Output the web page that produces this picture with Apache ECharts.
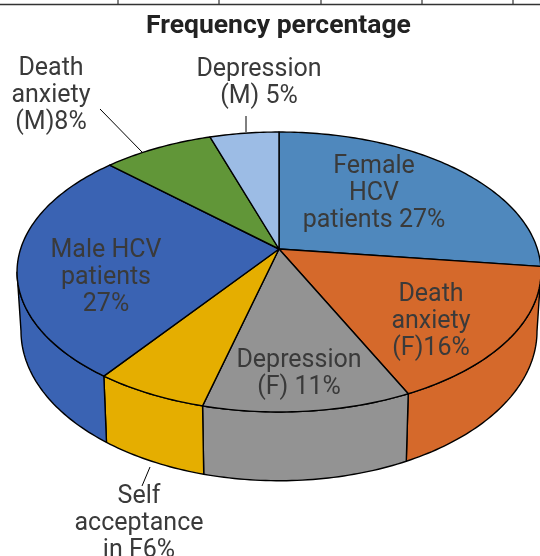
<!DOCTYPE html>
<html>
<head>
<meta charset="utf-8">
<title>Frequency percentage</title>
<script src="https://cdn.jsdelivr.net/npm/echarts@6/dist/echarts.min.js"></script>
<style>
  html, body { margin: 0; padding: 0; background: #fff; }
  #chart { width: 540px; height: 556px; overflow: hidden; }
</style>
</head>
<body>
<div id="chart"></div>
<script>
const categories = [
  'Female\nHCV\npatients 27%',
  'Death\nanxiety\n(F)16%',
  'Depression\n(F) 11%',
  'Self\nacceptance\nin F6%',
  'Male HCV\npatients\n27%',
  'Death\nanxiety\n(M)8%',
  'Depression\n(M) 5%'
];
const values = [27, 16, 11, 6, 27, 8, 5];
const colors = ['#4f88bd', '#d5692b', '#939393', '#e5ae00', '#3a63b3', '#619638', '#9cbce5'];

// label centres and leader lines, in pixels
const labelPos = [[374, 194], [431, 322], [299, 374], [139, 524], [106, 278], [51, 96], [259, 83]];
const leaders = [
  [100, 109, 142, 152],
  [246, 116, 246, 132],
  [150, 467, 142, 486]
];
const tableTicks = [118, 219, 321, 422, 513];

// the disc is a circle seen in perspective, these come from the rim in the picture
const topDisc = { cx: 279, cy: 249, a: 258.4, b: 136.2, p: 0.1643 };
const baseDisc = { cx: 279, cy: 306.4, a: 254.5, b: 145.7, p: 0.1643 };
const wallFrom = 99.5;
const wallTo = 260.5;

const total = values.reduce((s, v) => s + v, 0);
const starts = [];
values.reduce((s, v, i) => { starts[i] = s; return s + v; }, 0);

function sliceAngles(i) {
  return [starts[i] / total * 360, (starts[i] + values[i]) / total * 360];
}

function rimPoint(disc, deg) {
  const t = deg * Math.PI / 180;
  const u = Math.sin(t);
  const v = -Math.cos(t);
  const d = 1 - disc.p * v;
  return [disc.cx + disc.a * u / d, disc.cy + disc.b * v / d];
}

function arc(disc, from, to) {
  const pts = [];
  const n = Math.max(2, Math.ceil(Math.abs(to - from)));
  for (let i = 0; i <= n; i++) {
    pts.push(rimPoint(disc, from + (to - from) * i / n));
  }
  return pts;
}

function renderWall(params) {
  const i = params.dataIndex;
  const [s, e] = sliceAngles(i);
  const from = Math.max(s, wallFrom);
  const to = Math.min(e, wallTo);
  if (to <= from) return null;
  return {
    type: 'polygon',
    shape: { points: arc(topDisc, from, to).concat(arc(baseDisc, to, from)) },
    style: { fill: colors[i], stroke: '#000', lineWidth: 1.4, lineJoin: 'round' }
  };
}

function renderTop(params) {
  const i = params.dataIndex;
  const [s, e] = sliceAngles(i);
  return {
    type: 'polygon',
    shape: { points: [[topDisc.cx, topDisc.cy]].concat(arc(topDisc, s, e)) },
    style: { fill: colors[i], stroke: '#000', lineWidth: 1.4, lineJoin: 'round' }
  };
}

function renderLabel(params) {
  const i = params.dataIndex;
  return {
    type: 'text',
    style: {
      text: categories[i],
      x: labelPos[i][0],
      y: labelPos[i][1],
      align: 'center',
      verticalAlign: 'middle',
      font: '400 25px Roboto',
      lineHeight: 27,
      fill: '#3a3a3a'
    }
  };
}

const graphics = [
  { type: 'line', shape: { x1: 0, y1: 4.5, x2: 540, y2: 4.5 }, style: { stroke: '#333', lineWidth: 1.4 } }
];
tableTicks.forEach(x => {
  graphics.push({ type: 'line', shape: { x1: x, y1: 0, x2: x, y2: 4 }, style: { stroke: '#333', lineWidth: 1.2 } });
});
leaders.forEach(l => {
  graphics.push({
    type: 'line',
    z: 20,
    shape: { x1: l[0], y1: l[1], x2: l[2], y2: l[3] },
    style: { stroke: '#000', lineWidth: 1 }
  });
});

const chart = echarts.init(document.getElementById('chart'), null, { renderer: 'canvas' });
chart.setOption({
  animation: false,
  backgroundColor: '#fff',
  title: {
    text: 'Frequency percentage',
    left: 146,
    top: 13,
    padding: 0,
    textStyle: { fontFamily: 'Roboto', fontSize: 26.5, fontWeight: 'bold', color: '#222' }
  },
  graphic: graphics,
  series: [
    { type: 'custom', coordinateSystem: 'none', silent: true, z: 1, data: values, renderItem: renderWall },
    { type: 'custom', coordinateSystem: 'none', silent: true, z: 2, data: values, renderItem: renderTop },
    { type: 'custom', coordinateSystem: 'none', silent: true, z: 3, data: values, renderItem: renderLabel }
  ]
});

window.addEventListener('resize', () => chart.resize());
</script>
</body>
</html>
